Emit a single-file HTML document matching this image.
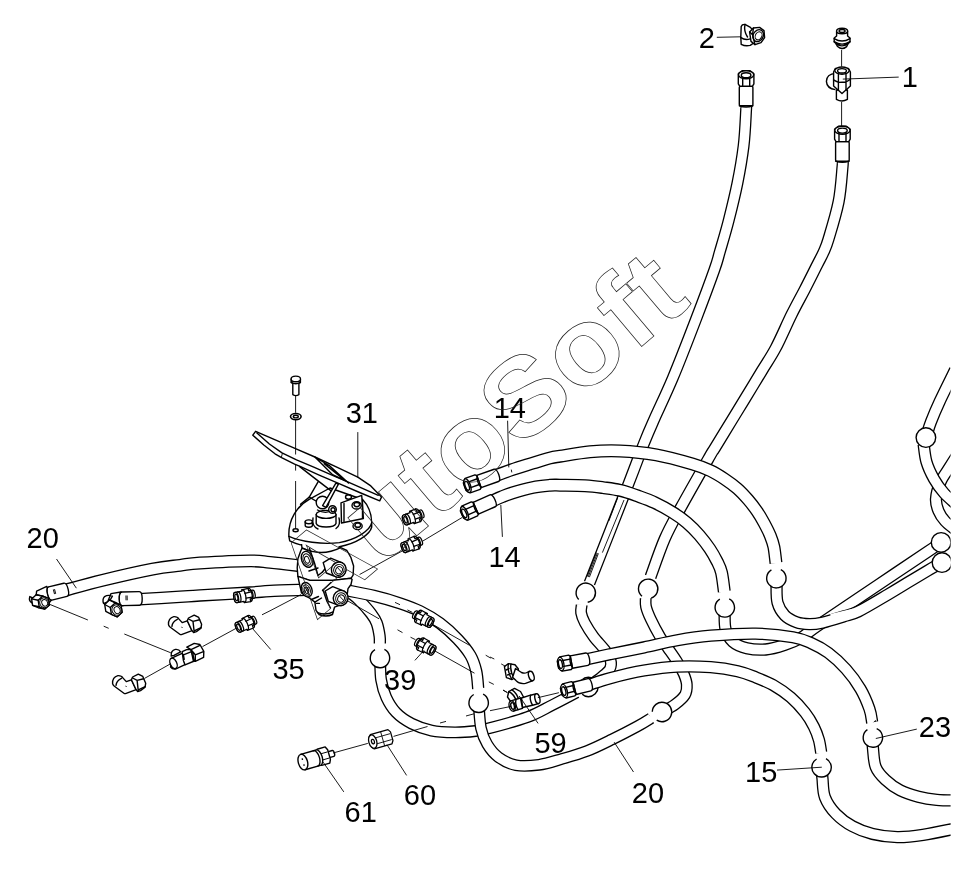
<!DOCTYPE html>
<html lang="en"><head><meta charset="utf-8"><title>Hose diagram</title>
<style>
html,body{margin:0;padding:0;background:#fff}
body{width:966px;height:872px;overflow:hidden}
svg{display:block;will-change:transform}
svg text{font-family:"Liberation Sans",sans-serif;fill:#000}
.ho{fill:none;stroke:#000;stroke-linejoin:round}
.hi{fill:none;stroke:#fff;stroke-linejoin:round}
.b{fill:#fff;stroke:#000;stroke-width:1.4}
.bo{fill:none;stroke:#000;stroke-width:1.4}
.w{fill:#fff;stroke:#000;stroke-width:1.4;stroke-linejoin:round}
.k{fill:none;stroke:#000;stroke-width:1.4;stroke-linecap:round;stroke-linejoin:round}
.r{fill:#fff;stroke:#000;stroke-width:.95}
.er{fill:none;stroke:#fff;stroke-width:2.4}
.t{fill:none;stroke:#000;stroke-width:.9}
.d{fill:none;stroke:#000;stroke-width:.8;stroke-dasharray:14 14}
.wm{font-family:"Liberation Sans",sans-serif;font-weight:bold;fill:none!important;stroke:#222;stroke-width:.75}
</style></head><body>
<svg width="966" height="872" viewBox="0 0 966 872">
<rect width="966" height="872" fill="#fff"/>
<g>
<path d="M746.3,105C746.3,105.8 746.5,103.2 746.1,110C745.7,116.8 745.1,133.7 743.6,145.9C742.1,158.1 739.9,170.8 737.4,183.2C734.9,195.6 731.6,208.9 728.7,220.4C725.8,231.9 722.2,243.6 719.8,251.9C717.4,260.2 718.3,258.7 714.3,270C710.3,281.3 702.7,301.7 695.8,319.7C688.9,337.7 679.9,361.1 672.8,378C665.7,394.9 658.1,410.4 653.3,421.4C648.4,432.4 647.9,433.5 643.7,444.1C639.5,454.7 637.1,461.7 628.1,484.9C619.1,508.1 595.9,566.7 589.5,583.1" class="ho" style="stroke-width:12"/>
<path d="M746.3,104.2C746.3,104.3 746.3,104 746.3,105C746.3,106 746.5,103.2 746.1,110C745.7,116.8 745.1,133.7 743.6,145.9C742.1,158.1 739.9,170.8 737.4,183.2C734.9,195.6 731.6,208.9 728.7,220.4C725.8,231.9 722.2,243.6 719.8,251.9C717.4,260.2 718.3,258.7 714.3,270C710.3,281.3 702.7,301.7 695.8,319.7C688.9,337.7 679.9,361.1 672.8,378C665.7,394.9 658.1,410.4 653.3,421.4C648.4,432.4 647.9,433.5 643.7,444.1C639.5,454.7 637.1,461.7 628.1,484.9C619.1,508.1 596,566.6 589.5,583.1C583,599.6 589.3,583.7 589.2,583.8" class="hi" style="stroke-width:9.4"/>
<path d="M842.6,160C842.6,161 843.3,159 842.6,166C841.9,173 841,189.6 838.6,201.8C836.2,214 831,230.8 828.5,239.1C826,247.4 825.6,247.6 823.7,251.9C821.8,256.2 820.4,258.5 817.2,264.8C814,271.1 808.9,281.4 804.6,289.7C800.3,298 796.4,304.8 791.6,314.5C786.8,324.2 780.7,338.6 775.7,348C770.7,357.4 767,362.3 761.8,371C756.5,379.7 749.3,391.6 744.2,400C739.1,408.4 736,413.4 731.1,421.4C726.2,429.4 718.5,442.1 714.9,448C711.3,453.9 715.2,446.8 709.5,456.8C703.8,466.8 688.1,494.3 680.6,508C673.1,521.7 669.7,527.3 664.7,538.8C659.7,550.3 653,570.5 650.6,576.8" class="ho" style="stroke-width:12.2"/>
<path d="M842.6,159.2C842.6,159.3 842.6,158.9 842.6,160C842.6,161.1 843.3,159 842.6,166C841.9,173 841,189.6 838.6,201.8C836.2,214 831,230.8 828.5,239.1C826,247.4 825.6,247.6 823.7,251.9C821.8,256.2 820.4,258.5 817.2,264.8C814,271.1 808.9,281.4 804.6,289.7C800.3,298 796.4,304.8 791.6,314.5C786.8,324.2 780.7,338.6 775.7,348C770.7,357.4 767,362.3 761.8,371C756.5,379.7 749.3,391.6 744.2,400C739.1,408.4 736,413.4 731.1,421.4C726.2,429.4 718.5,442.1 714.9,448C711.3,453.9 715.2,446.8 709.5,456.8C703.8,466.8 688.1,494.3 680.6,508C673.1,521.7 669.7,527.3 664.7,538.8C659.7,550.3 653,570.3 650.6,576.8C648.2,583.3 650.4,577.4 650.3,577.6" class="hi" style="stroke-width:9.6"/>
<path d="M581.7,605C581.6,606.3 580.6,609.8 581.1,612.8C581.6,615.8 582.7,618.8 584.8,622.7C586.9,626.6 590.2,631.9 593.5,636.4C596.8,640.9 601.8,645.8 604.6,649.6C607.4,653.4 609.5,656.2 610.4,659.4C611.3,662.6 611.4,665.9 609.9,668.8C608.4,671.7 605.1,674 601.5,677C597.9,680 590.6,684.9 588.4,686.5" class="ho" style="stroke-width:11.9"/>
<path d="M581.8,604.2C581.8,604.3 581.8,603.6 581.7,605C581.6,606.4 580.6,609.8 581.1,612.8C581.6,615.8 582.7,618.8 584.8,622.7C586.9,626.6 590.2,631.9 593.5,636.4C596.8,640.9 601.8,645.8 604.6,649.6C607.4,653.4 609.5,656.2 610.4,659.4C611.3,662.6 611.4,665.9 609.9,668.8C608.4,671.7 605.1,674 601.5,677C597.9,680 590.7,684.8 588.4,686.5C586.1,688.2 587.9,686.9 587.8,687" class="hi" style="stroke-width:9.3"/>
<circle cx="588.4" cy="687" r="9.7" class="b"/>
<path d="M380.1,660C380.3,663.3 380.1,673.5 381.1,679.8C382.1,686 383.8,692.1 386.3,697.5C388.8,702.9 391.8,708 396,712.4C400.2,716.8 405.8,720.6 411.7,723.6C417.6,726.6 424.5,729.1 431.6,730.6C438.7,732.1 447.1,732.3 454.4,732.4C461.7,732.5 469.6,731.7 475.5,731C481.4,730.3 481.4,730.4 490,728.1C498.6,725.8 516.9,721 527.3,717.2C537.6,713.4 543.9,709.3 552.1,705.2C560.3,701.1 572.4,694.6 576.5,692.5" class="ho" style="stroke-width:11.9"/>
<path d="M380.1,659.2C380.1,659.3 379.9,656.6 380.1,660C380.3,663.4 380.1,673.5 381.1,679.8C382.1,686 383.8,692.1 386.3,697.5C388.8,702.9 391.8,708 396,712.4C400.2,716.8 405.8,720.6 411.7,723.6C417.6,726.6 424.5,729.1 431.6,730.6C438.7,732.1 447.1,732.3 454.4,732.4C461.7,732.5 469.6,731.7 475.5,731C481.4,730.3 481.4,730.4 490,728.1C498.6,725.8 516.9,721 527.3,717.2C537.6,713.4 543.9,709.3 552.1,705.2C560.3,701.1 572.3,694.7 576.5,692.5C580.7,690.3 577.1,692.2 577.2,692.1" class="hi" style="stroke-width:9.3"/>
<path d="M645.7,597.9C645.8,599.4 645.2,603.1 646,606.6C646.8,610.1 648.3,613.9 650.7,619C653.1,624.1 657.5,632.4 660.4,637.3C663.3,642.2 665.5,644.6 668.2,648.6C671,652.6 674.3,657.1 676.9,661.3C679.5,665.5 682.1,670.1 683.8,674C685.4,677.9 686.6,681.1 686.8,684.6C687,688.1 687,691.5 685,694.8C683,698.1 678.8,701.6 675,704.5C671.2,707.4 664.2,710.8 662,712" class="ho" style="stroke-width:11.9"/>
<path d="M645.7,597.1C645.7,597.2 645.6,596.3 645.7,597.9C645.8,599.5 645.2,603.1 646,606.6C646.8,610.1 648.3,613.9 650.7,619C653.1,624.1 657.5,632.4 660.4,637.3C663.3,642.2 665.5,644.6 668.2,648.6C671,652.6 674.3,657.1 676.9,661.3C679.5,665.5 682.1,670.1 683.8,674C685.4,677.9 686.6,681.1 686.8,684.6C687,688.1 687,691.5 685,694.8C683,698.1 678.8,701.6 675,704.5C671.2,707.4 664.3,710.7 662,712C659.7,713.3 661.4,712.3 661.3,712.4" class="hi" style="stroke-width:9.3"/>
<path d="M724.6,612C724.8,614.9 724.2,624.3 725.6,629.3C727,634.3 729.4,638.8 732.9,641.9C736.4,645 741.3,646.9 746.8,648.2C752.3,649.5 759.4,650 765.7,649.5C772,649 778.9,646.8 784.6,644.9C790.3,643 795.3,641 800,638.4C804.7,635.8 808.2,632.4 813,629C817.8,625.6 818.2,625.4 829,618.1C839.8,610.8 861.6,596 878,585C894.4,574 916.9,559 927.4,551.9C937.9,544.8 938.8,544.1 941.1,542.6" class="ho" style="stroke-width:12.3"/>
<path d="M724.6,611.2C724.6,611.3 724.4,609 724.6,612C724.8,615 724.2,624.3 725.6,629.3C727,634.3 729.4,638.8 732.9,641.9C736.4,645 741.3,646.9 746.8,648.2C752.3,649.5 759.4,650 765.7,649.5C772,649 778.9,646.8 784.6,644.9C790.3,643 795.3,641 800,638.4C804.7,635.8 808.2,632.4 813,629C817.8,625.6 818.2,625.4 829,618.1C839.8,610.8 861.6,596 878,585C894.4,574 916.9,559 927.4,551.9C937.9,544.8 938.7,544.2 941.1,542.6C943.5,541 941.7,542.2 941.8,542.2" class="hi" style="stroke-width:9.7"/>
<path d="M776.5,584C776.7,587.1 776.1,597.4 777.5,602.6C778.9,607.8 781.6,612.1 784.8,615.4C788,618.7 792.5,620.8 796.6,622.3C800.7,623.8 805,624.1 809.3,624.2C813.5,624.3 816.4,624 822.1,622.7C827.9,621.4 837.7,618.3 843.8,616.4C849.9,614.5 851.1,615 858.5,611.4C865.9,607.8 879.8,599.3 888,594.5C896.2,589.7 901.1,586.6 907.7,582.6C914.3,578.6 921.7,574.2 927.4,570.8C933.1,567.4 939.6,563.7 942.1,562.3" class="ho" style="stroke-width:12.3"/>
<path d="M776.5,583.2C776.5,583.3 776.3,580.8 776.5,584C776.7,587.2 776.1,597.4 777.5,602.6C778.9,607.8 781.6,612.1 784.8,615.4C788,618.7 792.5,620.8 796.6,622.3C800.7,623.8 805,624.1 809.3,624.2C813.5,624.3 816.4,624 822.1,622.7C827.9,621.4 837.7,618.3 843.8,616.4C849.9,614.5 851.1,615 858.5,611.4C865.9,607.8 879.8,599.3 888,594.5C896.2,589.7 901.1,586.6 907.7,582.6C914.3,578.6 921.7,574.2 927.4,570.8C933.1,567.4 939.5,563.8 942.1,562.3C944.7,560.8 942.7,562 942.8,561.9" class="hi" style="stroke-width:9.7"/>
<path d="M830.5,615.2 L853.6,609.7" class="er"/>
<path d="M958,454C956.5,456.3 951.9,463.3 949,468C946.1,472.7 942.7,476.8 940.5,482C938.3,487.2 936.3,494.2 936,499C935.7,503.8 937,507.3 938.5,511C940,514.7 942.2,517.9 945,521C947.8,524.1 953.3,528.1 955,529.5" class="ho" style="stroke-width:12.3"/>
<path d="M958.4,453.3C958.4,453.4 959.6,451.6 958,454C956.4,456.4 951.9,463.3 949,468C946.1,472.7 942.7,476.8 940.5,482C938.3,487.2 936.3,494.2 936,499C935.7,503.8 937,507.3 938.5,511C940,514.7 942.2,517.9 945,521C947.8,524.1 953.2,528 955,529.5C956.8,531 955.5,529.9 955.6,530" class="hi" style="stroke-width:9.7"/>
<path d="M955,370C952.4,375.3 943.6,393 939.6,401.6C935.6,410.2 933.1,416.3 931,421.7C928.9,427.1 927.7,431.9 927,434" class="ho" style="stroke-width:12.3"/>
<path d="M955.4,369.3C955.3,369.4 957.6,364.6 955,370C952.4,375.4 943.6,393 939.6,401.6C935.6,410.2 933.1,416.3 931,421.7C928.9,427.1 927.7,431.8 927,434C926.3,436.2 926.8,434.6 926.8,434.8" class="hi" style="stroke-width:9.7"/>
<path d="M923.6,444C924.1,447 924.8,456.2 926.5,462C928.2,467.8 931.1,473.8 934,479C936.9,484.2 940,488.5 944,493C948,497.5 955.7,503.8 958,506" class="ho" style="stroke-width:12.3"/>
<path d="M923.5,443.2C923.5,443.3 923.1,440.9 923.6,444C924.1,447.1 924.8,456.2 926.5,462C928.2,467.8 931.1,473.8 934,479C936.9,484.2 940,488.5 944,493C948,497.5 955.6,503.7 958,506C960.4,508.3 958.5,506.5 958.6,506.5" class="hi" style="stroke-width:9.7"/>
<circle cx="925.9" cy="437.6" r="9.8" class="b"/>
<circle cx="941.1" cy="542.4" r="9.8" class="b"/>
<circle cx="942" cy="562.6" r="9.8" class="b"/>
<path d="M586.9,659.2C590.8,658.4 600.5,656.2 610,654.2C619.5,652.2 632.8,649.7 644,647.4C655.2,645.1 666.2,642.2 677.3,640.3C688.4,638.3 697.6,636.8 710.7,635.7C723.8,634.6 742,633.4 755.7,633.6C769.4,633.9 783.8,635.6 793,637.2C802.2,638.8 805,640.4 810.9,643C816.8,645.6 822.5,648.5 828.4,652.9C834.3,657.3 840.8,663.3 846.1,669.3C851.5,675.3 856.6,682.4 860.5,689C864.4,695.6 867.4,703.2 869.4,708.8C871.4,714.4 871.7,720.2 872.2,722.5" class="ho" style="stroke-width:12.3"/>
<path d="M586.1,659.4C586.2,659.3 582.9,660.1 586.9,659.2C590.9,658.3 600.5,656.2 610,654.2C619.5,652.2 632.8,649.7 644,647.4C655.2,645.1 666.2,642.2 677.3,640.3C688.4,638.3 697.6,636.8 710.7,635.7C723.8,634.6 742,633.4 755.7,633.6C769.4,633.9 783.8,635.6 793,637.2C802.2,638.8 805,640.4 810.9,643C816.8,645.6 822.5,648.5 828.4,652.9C834.3,657.3 840.8,663.3 846.1,669.3C851.5,675.3 856.6,682.4 860.5,689C864.4,695.6 867.4,703.2 869.4,708.8C871.4,714.4 871.7,720.1 872.2,722.5C872.7,724.9 872.3,723.2 872.4,723.3" class="hi" style="stroke-width:9.7"/>
<path d="M589.4,684.7C592.8,683.6 600.9,680.6 610,678.2C619.1,675.8 632.8,672.4 644,670.5C655.2,668.6 666.2,667.1 677.3,666.6C688.4,666.1 700.6,666.4 710.7,667.2C720.8,668 730.2,669.6 737.7,671.3C745.2,673 749.7,675 755.6,677.3C761.5,679.6 767.2,681.8 773.1,685.1C779,688.5 785.5,692.8 790.8,697.4C796.1,702 801.1,707.6 805,712.5C808.9,717.4 811.6,722.2 813.9,726.8C816.2,731.4 817.7,735.6 818.9,739.9C820.1,744.2 820.8,750.5 821.2,752.6" class="ho" style="stroke-width:12.3"/>
<path d="M588.6,684.9C588.8,684.9 585.8,685.8 589.4,684.7C593,683.6 600.9,680.6 610,678.2C619.1,675.8 632.8,672.4 644,670.5C655.2,668.6 666.2,667.1 677.3,666.6C688.4,666.1 700.6,666.4 710.7,667.2C720.8,668 730.2,669.6 737.7,671.3C745.2,673 749.7,675 755.6,677.3C761.5,679.6 767.2,681.8 773.1,685.1C779,688.5 785.5,692.8 790.8,697.4C796.1,702 801.1,707.6 805,712.5C808.9,717.4 811.6,722.2 813.9,726.8C816.2,731.4 817.7,735.6 818.9,739.9C820.1,744.2 820.8,750.4 821.2,752.6C821.6,754.8 821.3,753.3 821.3,753.4" class="hi" style="stroke-width:9.7"/>
<path d="M872.8,741C872.8,742.1 872.4,743.4 872.9,747.7C873.4,752 873.6,761.6 875.7,767C877.8,772.4 881.3,775.9 885.4,779.8C889.5,783.7 894.6,787.5 900.1,790.3C905.6,793.1 912.3,795.1 918.4,796.7C924.5,798.3 930.5,799.2 936.8,799.8C943.1,800.4 952.8,800.4 956,800.5" class="ho" style="stroke-width:12.3"/>
<path d="M872.8,740.2C872.8,740.3 872.8,739.8 872.8,741C872.8,742.2 872.4,743.4 872.9,747.7C873.4,752 873.6,761.6 875.7,767C877.8,772.4 881.3,775.9 885.4,779.8C889.5,783.7 894.6,787.5 900.1,790.3C905.6,793.1 912.3,795.1 918.4,796.7C924.5,798.3 930.5,799.2 936.8,799.8C943.1,800.4 952.7,800.4 956,800.5C959.3,800.6 956.7,800.5 956.8,800.5" class="hi" style="stroke-width:9.7"/>
<path d="M821.7,770C821.8,771.5 822,774.4 822.5,778.9C823,783.4 822.7,791.4 824.9,797.2C827.1,803 831.3,809 835.9,813.8C840.5,818.6 846.3,822.9 852.4,826.2C858.5,829.6 865.1,832.1 872.6,833.9C880.1,835.7 888.9,837 897.3,837.2C905.7,837.4 913.2,836.4 923,834.9C932.8,833.4 950.5,829.5 956,828.4" class="ho" style="stroke-width:12.3"/>
<path d="M821.6,769.2C821.6,769.3 821.6,768.4 821.7,770C821.8,771.6 822,774.4 822.5,778.9C823,783.4 822.7,791.4 824.9,797.2C827.1,803 831.3,809 835.9,813.8C840.5,818.6 846.3,822.9 852.4,826.2C858.5,829.6 865.1,832.1 872.6,833.9C880.1,835.7 888.9,837 897.3,837.2C905.7,837.4 913.2,836.4 923,834.9C932.8,833.4 950.4,829.5 956,828.4C961.6,827.3 956.7,828.3 956.8,828.2" class="hi" style="stroke-width:9.7"/>
<circle cx="872.8" cy="737.6" r="9.7" fill="#fff"/>
<path d="M876.7,728.7 A9.7,9.7 0 1 1 867.4,729.6" class="bo"/>
<circle cx="821.6" cy="767.3" r="9.7" fill="#fff"/>
<path d="M826,758.7 A9.7,9.7 0 1 1 816.6,759" class="bo"/>
<path d="M478.8,706C479.2,709.7 479.6,721.8 481,728.2C482.4,734.6 484.3,739.4 487.2,744.2C490.1,749 493.7,753.7 498.5,757.2C503.3,760.7 509.2,763.9 516,765.2C522.8,766.5 531.3,765.8 539,764.8C546.7,763.8 554,761.2 562,758.9C570,756.6 578.6,754.2 587,751C595.4,747.8 603.8,743.5 612.1,739.4C620.5,735.3 630.6,730 637.1,726.5C643.6,723 648.7,719.6 651,718.2" class="ho" style="stroke-width:11.8"/>
<path d="M478.7,705.2C478.7,705.3 478.4,702.2 478.8,706C479.2,709.8 479.6,721.8 481,728.2C482.4,734.6 484.3,739.4 487.2,744.2C490.1,749 493.7,753.7 498.5,757.2C503.3,760.7 509.2,763.9 516,765.2C522.8,766.5 531.3,765.8 539,764.8C546.7,763.8 554,761.2 562,758.9C570,756.6 578.6,754.2 587,751C595.4,747.8 603.8,743.5 612.1,739.4C620.5,735.3 630.6,730 637.1,726.5C643.6,723 648.6,719.7 651,718.2C653.4,716.7 651.6,717.9 651.7,717.8" class="hi" style="stroke-width:9.2"/>
<circle cx="662" cy="712" r="9.7" fill="#fff"/>
<path d="M652.3,711.8 A9.7,9.7 0 1 1 656.7,720.1" class="bo"/>
<path d="M496.3,475.4C498.9,474.4 506,471.8 512.1,469.7C518.2,467.6 526.5,465.1 532.8,463.1C539.1,461.2 545.5,459.1 550,458C554.5,456.9 553.3,457.2 560,456.2C566.7,455.2 580,452.7 590,451.8C600,450.9 609,450.5 620,451C631,451.5 644.2,452.7 656.3,454.9C668.4,457.1 683.5,461.4 692.5,464C701.5,466.6 705,468.2 710.4,470.7C715.8,473.2 720.2,476.1 724.7,479.1C729.2,482.1 733.5,485.2 737.4,488.6C741.3,492 744.7,495.8 748,499.6C751.3,503.4 754.4,507.4 757.1,511.4C759.8,515.3 762,519.2 764.2,523.3C766.4,527.4 768.8,532 770.4,536C772,540 773,542.6 773.9,547.1C774.8,551.6 775.6,560.4 776,563" class="ho" style="stroke-width:13"/>
<path d="M495.5,475.7C495.7,475.6 493.5,476.4 496.3,475.4C499.1,474.4 506,471.8 512.1,469.7C518.2,467.6 526.5,465.1 532.8,463.1C539.1,461.2 545.5,459.1 550,458C554.5,456.9 553.3,457.2 560,456.2C566.7,455.2 580,452.7 590,451.8C600,450.9 609,450.5 620,451C631,451.5 644.2,452.7 656.3,454.9C668.4,457.1 683.5,461.4 692.5,464C701.5,466.6 705,468.2 710.4,470.7C715.8,473.2 720.2,476.1 724.7,479.1C729.2,482.1 733.5,485.2 737.4,488.6C741.3,492 744.7,495.8 748,499.6C751.3,503.4 754.4,507.4 757.1,511.4C759.8,515.3 762,519.2 764.2,523.3C766.4,527.4 768.8,532 770.4,536C772,540 773,542.6 773.9,547.1C774.8,551.6 775.6,560.2 776,563C776.4,565.8 776.1,563.7 776.1,563.8" class="hi" style="stroke-width:10.4"/>
<path d="M492.4,500.9C494,500.2 498.5,498.1 501.8,496.8C505.1,495.5 506.9,494.6 512.1,493C517.3,491.4 526.5,488.8 532.8,487.5C539.1,486.2 545.5,485.7 550,485.3C554.5,484.9 554.1,485.1 560,485.2C565.9,485.3 578,485.3 585.2,485.7C592.4,486.1 597.2,486.8 603,487.6C608.8,488.4 614.3,489 620,490.3C625.7,491.6 631.2,493.6 637,495.7C642.8,497.8 648.8,499.8 654.7,502.6C660.6,505.4 667,508.9 672.4,512.3C677.8,515.6 682.4,518.9 686.9,522.7C691.4,526.5 695.6,530.9 699.4,535.2C703.2,539.6 706.8,544.4 709.8,548.8C712.8,553.2 715.1,557.5 717.1,561.5C719.1,565.5 720.3,567.5 721.5,572.5C722.7,577.5 723.8,588.3 724.3,591.5" class="ho" style="stroke-width:13"/>
<path d="M491.7,501.2C491.8,501.2 490.7,501.6 492.4,500.9C494.1,500.2 498.5,498.1 501.8,496.8C505.1,495.5 506.9,494.6 512.1,493C517.3,491.4 526.5,488.8 532.8,487.5C539.1,486.2 545.5,485.7 550,485.3C554.5,484.9 554.1,485.1 560,485.2C565.9,485.3 578,485.3 585.2,485.7C592.4,486.1 597.2,486.8 603,487.6C608.8,488.4 614.3,489 620,490.3C625.7,491.6 631.2,493.6 637,495.7C642.8,497.8 648.8,499.8 654.7,502.6C660.6,505.4 667,508.9 672.4,512.3C677.8,515.6 682.4,518.9 686.9,522.7C691.4,526.5 695.6,530.9 699.4,535.2C703.2,539.6 706.8,544.4 709.8,548.8C712.8,553.2 715.1,557.5 717.1,561.5C719.1,565.5 720.3,567.5 721.5,572.5C722.7,577.5 723.8,588.2 724.3,591.5C724.8,594.8 724.4,592.2 724.4,592.3" class="hi" style="stroke-width:10.4"/>
<circle cx="776.4" cy="578.2" r="9.7" fill="#fff"/>
<path d="M780.8,569.6 A9.7,9.7 0 1 1 771.4,569.9" class="bo"/>
<circle cx="724.8" cy="607.4" r="9.7" fill="#fff"/>
<path d="M729.2,598.8 A9.7,9.7 0 1 1 719.8,599.1" class="bo"/>
<circle cx="585.8" cy="592.8" r="9.7" fill="#fff"/>
<path d="M578.7,599.4 A9.7,9.7 0 1 1 587.7,602.3" class="bo"/>
<circle cx="648.1" cy="588.8" r="9.7" fill="#fff"/>
<path d="M642,596.3 A9.7,9.7 0 1 1 651.3,598" class="bo"/>
<path d="M65.5,590.2C71.7,588.5 88.3,583.7 102.8,580.2C117.3,576.7 139.6,571.6 152.5,569.1C165.4,566.6 172.1,566.3 180,565.3C187.9,564.3 188.3,563.7 200,563C211.7,562.3 238.3,561 250,560.9C261.7,560.8 261.7,561.6 270,562.4C278.3,563.2 295,565.2 300,565.8" class="ho" style="stroke-width:12.9"/>
<path d="M64.7,590.4C64.9,590.4 59.2,591.9 65.5,590.2C71.8,588.5 88.3,583.7 102.8,580.2C117.3,576.7 139.6,571.6 152.5,569.1C165.4,566.6 172.1,566.3 180,565.3C187.9,564.3 188.3,563.7 200,563C211.7,562.3 238.3,561 250,560.9C261.7,560.8 261.7,561.6 270,562.4C278.3,563.2 294.9,565.2 300,565.8C305.1,566.4 300.7,565.9 300.8,565.9" class="hi" style="stroke-width:10.3"/>
<path d="M138.9,599.3C145.8,598.9 169.8,597.4 180,596.8C190.2,596.1 188.3,596.1 200,595.4C211.7,594.7 238.3,593.3 250,592.6C261.7,591.9 260.8,591.5 270,591C279.2,590.5 299.2,590 305,589.8" class="ho" style="stroke-width:12.5"/>
<path d="M138.1,599.3C138.2,599.3 131.9,599.7 138.9,599.3C145.9,598.9 169.8,597.4 180,596.8C190.2,596.1 188.3,596.1 200,595.4C211.7,594.7 238.3,593.3 250,592.6C261.7,591.9 260.8,591.5 270,591C279.2,590.5 299,590 305,589.8C311,589.6 305.7,589.8 305.8,589.8" class="hi" style="stroke-width:9.9"/>
<path d="M352,594C353.2,595 355.8,596.8 359,600C362.2,603.2 368.1,609.6 371,613.4C373.9,617.2 375.3,619.2 376.7,623C378.1,626.8 379.1,632.6 379.6,636C380.1,639.4 379.8,642.3 379.8,643.6" class="ho" style="stroke-width:12.3"/>
<path d="M351.4,593.5C351.5,593.6 350.7,592.9 352,594C353.3,595.1 355.8,596.8 359,600C362.2,603.2 368.1,609.6 371,613.4C373.9,617.2 375.3,619.2 376.7,623C378.1,626.8 379.1,632.6 379.6,636C380.1,639.4 379.8,642.2 379.8,643.6C379.8,645 379.8,644.3 379.8,644.4" class="hi" style="stroke-width:9.7"/>
<path d="M345,590C349.8,591 364.4,593.5 373.6,595.8C382.9,598 392.8,600.9 400.5,603.5C408.2,606.1 413.4,607.9 420,611.2C426.6,614.5 433.8,618.6 440,623.2C446.2,627.8 452.4,633.6 457.5,639C462.6,644.4 467.4,650.2 470.5,655.5C473.6,660.8 474.9,665.5 476.2,671C477.5,676.5 477.9,685.6 478.2,688.5" class="ho" style="stroke-width:12.3"/>
<path d="M344.2,589.8C344.3,589.9 340.1,589 345,590C349.9,591 364.4,593.5 373.6,595.8C382.9,598 392.8,600.9 400.5,603.5C408.2,606.1 413.4,607.9 420,611.2C426.6,614.5 433.8,618.6 440,623.2C446.2,627.8 452.4,633.6 457.5,639C462.6,644.4 467.4,650.2 470.5,655.5C473.6,660.8 474.9,665.5 476.2,671C477.5,676.5 477.9,685.5 478.2,688.5C478.5,691.5 478.3,689.2 478.3,689.3" class="hi" style="stroke-width:9.7"/>
<circle cx="478.7" cy="702.8" r="9.7" fill="#fff"/>
<path d="M483.1,694.2 A9.7,9.7 0 1 1 473.7,694.5" class="bo"/>
<circle cx="380" cy="658" r="9.7" fill="#fff"/>
<path d="M384.4,649.4 A9.7,9.7 0 1 1 375,649.7" class="bo"/>
<path d="M617.6,498 L608.8,521" class="t"/>
<path d="M624,500 L602.4,552.6" class="t"/>
<path d="M596.4,552.6 L587.2,576.6" class="t"/>
<path d="M597.4,553 L588.2,577" class="t"/>
<path d="M598.4,553.4 L589.4,577.2" class="t"/>
<path d="M511.3,469.6 L511.8,472.4" class="t"/>
<g transform="translate(496.3,475.4) rotate(160.4)">
<path d="M18.4,-6.5 L0,-6.5 A2.6,6.5 0 0 0 0,6.5 L18.4,6.5 Z" class="w"/>
<path d="M18.4,-6.3 L19.9,-7.7 L30.4,-7.7 L33.6,-3.9 L33.6,3.9 L30.4,7.7 L19.9,7.7 L18.4,6.3 Z" class="w"/>
<ellipse cx="30.6" cy="0" rx="3" ry="7.2" class="w"/>
<ellipse cx="31" cy="0" rx="1.9" ry="4.6" class="w"/>
<path d="M19,-2.9 L28.2,-2.9" class="k"/>
<path d="M19,3.2 L28.2,3.2" class="k"/>
<path d="M18.4,-6.3 Q20.8,0 18.4,6.3" class="k"/>
</g>
<g transform="translate(492.6,500.8) rotate(156)">
<path d="M18.4,-6.5 L0,-6.5 A2.6,6.5 0 0 0 0,6.5 L18.4,6.5 Z" class="w"/>
<path d="M18.4,-6.3 L19.9,-7.7 L30.4,-7.7 L33.6,-3.9 L33.6,3.9 L30.4,7.7 L19.9,7.7 L18.4,6.3 Z" class="w"/>
<ellipse cx="30.6" cy="0" rx="3" ry="7.2" class="w"/>
<ellipse cx="31" cy="0" rx="1.9" ry="4.6" class="w"/>
<path d="M19,-2.9 L28.2,-2.9" class="k"/>
<path d="M19,3.2 L28.2,3.2" class="k"/>
<path d="M18.4,-6.3 Q20.8,0 18.4,6.3" class="k"/>
</g>
<g transform="translate(586.9,659.2) rotate(169.5)">
<path d="M15.8,-6.3 L0,-6.3 A2.6,6.3 0 0 0 0,6.3 L15.8,6.3 Z" class="w"/>
<path d="M15.8,-6 L17.3,-7.3 L26.3,-7.3 L29.5,-3.6 L29.5,3.6 L26.3,7.3 L17.3,7.3 L15.8,6 Z" class="w"/>
<ellipse cx="26.5" cy="0" rx="3" ry="6.8" class="w"/>
<ellipse cx="26.9" cy="0" rx="1.9" ry="4.4" class="w"/>
<path d="M16.4,-2.8 L24.1,-2.8" class="k"/>
<path d="M16.4,3.1 L24.1,3.1" class="k"/>
<path d="M15.8,-6 Q18.2,0 15.8,6" class="k"/>
</g>
<g transform="translate(589.4,684.7) rotate(166)">
<path d="M15.3,-6.3 L0,-6.3 A2.6,6.3 0 0 0 0,6.3 L15.3,6.3 Z" class="w"/>
<path d="M15.3,-6 L16.8,-7.3 L25.8,-7.3 L29,-3.6 L29,3.6 L25.8,7.3 L16.8,7.3 L15.3,6 Z" class="w"/>
<ellipse cx="26" cy="0" rx="3" ry="6.8" class="w"/>
<ellipse cx="26.4" cy="0" rx="1.9" ry="4.4" class="w"/>
<path d="M15.9,-2.8 L23.6,-2.8" class="k"/>
<path d="M15.9,3.1 L23.6,3.1" class="k"/>
<path d="M15.3,-6 Q17.7,0 15.3,6" class="k"/>
</g>
<g transform="translate(746.1,105.8)">
<rect x="-6.8" y="-19.6" width="13.6" height="19.6" rx="1.2" class="w"/>
<path d="M-6.8,0 Q0,2.4 6.8,0" class="k"/>
<path d="M-6.4,-19.6 L-7.8,-22 L-7.8,-32 L-4,-35 L4,-35 L7.8,-32 L7.8,-22 L6.4,-19.6 Z" class="w"/>
<ellipse cx="0" cy="-31" rx="7.6" ry="4" class="w"/>
<ellipse cx="0" cy="-30.6" rx="4.8" ry="2.5" class="w"/>
<path d="M-3.4,-27.4 L-3.4,-20.2" class="k"/>
<path d="M3.6,-27.4 L3.6,-20.2" class="k"/>
</g>
<g transform="translate(842.4,161.2)">
<rect x="-6.8" y="-19.6" width="13.6" height="19.6" rx="1.2" class="w"/>
<path d="M-6.8,0 Q0,2.4 6.8,0" class="k"/>
<path d="M-6.4,-19.6 L-7.8,-22 L-7.8,-32 L-4,-35 L4,-35 L7.8,-32 L7.8,-22 L6.4,-19.6 Z" class="w"/>
<ellipse cx="0" cy="-31" rx="7.6" ry="4" class="w"/>
<ellipse cx="0" cy="-30.6" rx="4.8" ry="2.5" class="w"/>
<path d="M-3.4,-27.4 L-3.4,-20.2" class="k"/>
<path d="M3.6,-27.4 L3.6,-20.2" class="k"/>
</g>
<g transform="translate(244.8,595.8) rotate(-11) scale(0.9)">
<path d="M-9.8,-5.8 L-2,-5.8 L-2,-7.2 L5.2,-7.5 L5.2,-4.6 L9.8,-4.6 A1.8,4.6 0 0 1 9.8,4.6 L5.2,4.6 L5.2,7.5 L-2,7.2 L-2,5.8 L-9.8,5.8 A2.6,5.8 0 0 1 -9.8,-5.8 Z" class="w"/>
<ellipse cx="-9.8" cy="0" rx="2.6" ry="5.8" class="w"/>
<ellipse cx="-9.5" cy="0" rx="1.6" ry="3.7" class="w"/>
<path d="M-7.2,-5.8 A2.6,5.8 0 0 1 -7.2,5.8" class="k"/>
<path d="M-2,-7.2 A3,7.2 0 0 1 -2,7.2" class="k"/>
<path d="M5.2,-7.5 A3,7.5 0 0 1 5.2,7.5" class="k"/>
<path d="M7.4,-4.6 A1.8,4.6 0 0 1 7.4,4.6" class="k"/>
<path d="M0.6,-2.7 L7.6,-2.9" class="k"/>
<path d="M0.8,2.9 L7.8,3.1" class="k"/>
</g>
<g transform="translate(246.4,623.7) rotate(-24) scale(0.9)">
<path d="M-9.8,-5.8 L-2,-5.8 L-2,-7.2 L5.2,-7.5 L5.2,-4.6 L9.8,-4.6 A1.8,4.6 0 0 1 9.8,4.6 L5.2,4.6 L5.2,7.5 L-2,7.2 L-2,5.8 L-9.8,5.8 A2.6,5.8 0 0 1 -9.8,-5.8 Z" class="w"/>
<ellipse cx="-9.8" cy="0" rx="2.6" ry="5.8" class="w"/>
<ellipse cx="-9.5" cy="0" rx="1.6" ry="3.7" class="w"/>
<path d="M-7.2,-5.8 A2.6,5.8 0 0 1 -7.2,5.8" class="k"/>
<path d="M-2,-7.2 A3,7.2 0 0 1 -2,7.2" class="k"/>
<path d="M5.2,-7.5 A3,7.5 0 0 1 5.2,7.5" class="k"/>
<path d="M7.4,-4.6 A1.8,4.6 0 0 1 7.4,4.6" class="k"/>
<path d="M0.6,-2.7 L7.6,-2.9" class="k"/>
<path d="M0.8,2.9 L7.8,3.1" class="k"/>
</g>
<g transform="translate(422.8,618.6) rotate(207) scale(0.9)">
<path d="M-9.8,-5.8 L-2,-5.8 L-2,-7.2 L5.2,-7.5 L5.2,-4.6 L9.8,-4.6 A1.8,4.6 0 0 1 9.8,4.6 L5.2,4.6 L5.2,7.5 L-2,7.2 L-2,5.8 L-9.8,5.8 A2.6,5.8 0 0 1 -9.8,-5.8 Z" class="w"/>
<ellipse cx="-9.8" cy="0" rx="2.6" ry="5.8" class="w"/>
<ellipse cx="-9.5" cy="0" rx="1.6" ry="3.7" class="w"/>
<path d="M-7.2,-5.8 A2.6,5.8 0 0 1 -7.2,5.8" class="k"/>
<path d="M-2,-7.2 A3,7.2 0 0 1 -2,7.2" class="k"/>
<path d="M5.2,-7.5 A3,7.5 0 0 1 5.2,7.5" class="k"/>
<path d="M7.4,-4.6 A1.8,4.6 0 0 1 7.4,4.6" class="k"/>
<path d="M0.6,-2.7 L7.6,-2.9" class="k"/>
<path d="M0.8,2.9 L7.8,3.1" class="k"/>
</g>
<g transform="translate(424.8,646.2) rotate(208) scale(0.9)">
<path d="M-9.8,-5.8 L-2,-5.8 L-2,-7.2 L5.2,-7.5 L5.2,-4.6 L9.8,-4.6 A1.8,4.6 0 0 1 9.8,4.6 L5.2,4.6 L5.2,7.5 L-2,7.2 L-2,5.8 L-9.8,5.8 A2.6,5.8 0 0 1 -9.8,-5.8 Z" class="w"/>
<ellipse cx="-9.8" cy="0" rx="2.6" ry="5.8" class="w"/>
<ellipse cx="-9.5" cy="0" rx="1.6" ry="3.7" class="w"/>
<path d="M-7.2,-5.8 A2.6,5.8 0 0 1 -7.2,5.8" class="k"/>
<path d="M-2,-7.2 A3,7.2 0 0 1 -2,7.2" class="k"/>
<path d="M5.2,-7.5 A3,7.5 0 0 1 5.2,7.5" class="k"/>
<path d="M7.4,-4.6 A1.8,4.6 0 0 1 7.4,4.6" class="k"/>
<path d="M0.6,-2.7 L7.6,-2.9" class="k"/>
<path d="M0.8,2.9 L7.8,3.1" class="k"/>
</g>
<g transform="translate(413.6,516.9) rotate(-20) scale(0.9)">
<path d="M-9.8,-5.8 L-2,-5.8 L-2,-7.2 L5.2,-7.5 L5.2,-4.6 L9.8,-4.6 A1.8,4.6 0 0 1 9.8,4.6 L5.2,4.6 L5.2,7.5 L-2,7.2 L-2,5.8 L-9.8,5.8 A2.6,5.8 0 0 1 -9.8,-5.8 Z" class="w"/>
<ellipse cx="-9.8" cy="0" rx="2.6" ry="5.8" class="w"/>
<ellipse cx="-9.5" cy="0" rx="1.6" ry="3.7" class="w"/>
<path d="M-7.2,-5.8 A2.6,5.8 0 0 1 -7.2,5.8" class="k"/>
<path d="M-2,-7.2 A3,7.2 0 0 1 -2,7.2" class="k"/>
<path d="M5.2,-7.5 A3,7.5 0 0 1 5.2,7.5" class="k"/>
<path d="M7.4,-4.6 A1.8,4.6 0 0 1 7.4,4.6" class="k"/>
<path d="M0.6,-2.7 L7.6,-2.9" class="k"/>
<path d="M0.8,2.9 L7.8,3.1" class="k"/>
</g>
<g transform="translate(412.2,544.3) rotate(-22) scale(0.9)">
<path d="M-9.8,-5.8 L-2,-5.8 L-2,-7.2 L5.2,-7.5 L5.2,-4.6 L9.8,-4.6 A1.8,4.6 0 0 1 9.8,4.6 L5.2,4.6 L5.2,7.5 L-2,7.2 L-2,5.8 L-9.8,5.8 A2.6,5.8 0 0 1 -9.8,-5.8 Z" class="w"/>
<ellipse cx="-9.8" cy="0" rx="2.6" ry="5.8" class="w"/>
<ellipse cx="-9.5" cy="0" rx="1.6" ry="3.7" class="w"/>
<path d="M-7.2,-5.8 A2.6,5.8 0 0 1 -7.2,5.8" class="k"/>
<path d="M-2,-7.2 A3,7.2 0 0 1 -2,7.2" class="k"/>
<path d="M5.2,-7.5 A3,7.5 0 0 1 5.2,7.5" class="k"/>
<path d="M7.4,-4.6 A1.8,4.6 0 0 1 7.4,4.6" class="k"/>
<path d="M0.6,-2.7 L7.6,-2.9" class="k"/>
<path d="M0.8,2.9 L7.8,3.1" class="k"/>
</g>
<path d="M288.9,536.4 C288,520 297,506 309.6,499.2 L330,488 L362.6,499.5 C368,505 371.5,513 371.7,522.7 L371.7,527 C370,535 356,543.5 339.4,546.8 C322,549.5 301,546.5 289.7,540.9 Z" class="w"/>
<path d="M288.9,536.4 C301,541.5 322,545 339.4,542.6 C356,539.5 370,531 371.7,522.7" class="k"/>
<path d="M301.5,544 L302,548 Q320,556.5 339,552.5 L339.2,546" class="w"/>
<path d="M300.5,551.5 L297.9,558.7 L297.2,568 L297.9,576.3 L309.8,580.4 L332.5,580.4 L351,578.3 L353.1,575.2 L353.6,566 L351,557.7 L346.9,550.5 L340.7,547.6 Q322,557 302,548.2 Z" class="w"/>
<path d="M297.9,576.3 L299.4,583.5 L301.5,592.8 L310.8,599 L314.9,602.1 L316,610.3 L319.1,614.5 Q326,617.6 332.5,614.5 L334.5,607.2 L342.8,604.1 L346.9,596.9 L348,588.7 L351,584.5 L352.1,579.4 L351,578.3 L332.5,580.4 L309.8,580.4 Z" class="w"/>
<path d="M317.4,612.6 Q326,615.6 333.2,611.8" class="k"/>
<path d="M309.5,548.5 L314.5,563 L318,575.5 L322.5,572" class="k"/>
<path d="M322.5,572 L326,567.5 M309,571 L318,568" class="k"/>
<path d="M311.5,599.5 L318.5,596.5 M314.9,602.1 L321.5,598 M322.5,590.5 L331,582.5" class="k"/>
<path d="M323,590 L327,601.5 L330.5,608" class="k"/>
<path d="M316.6,603.4 L319.4,603.4" class="k"/>
<ellipse cx="307.2" cy="559.3" rx="5.6" ry="8.2" transform="rotate(-20 307.2 559.3)" class="w"/>
<ellipse cx="307" cy="559.5" rx="3.9" ry="5.9" transform="rotate(-20 307.2 559.3)" class="r"/>
<ellipse cx="306.8" cy="559.7" rx="2.2" ry="3.6" transform="rotate(-20 307.2 559.3)" class="r"/>
<ellipse cx="306.7" cy="589.7" rx="5.2" ry="7.4" transform="rotate(-20 306.7 589.7)" class="w"/>
<ellipse cx="306.5" cy="589.9" rx="3.6" ry="5.3" transform="rotate(-20 306.7 589.7)" class="r"/>
<ellipse cx="306.3" cy="590.1" rx="2.1" ry="3.3" transform="rotate(-20 306.7 589.7)" class="r"/>
<path d="M304.6,586.6 L308.4,593.2 M308.6,586.8 L304.6,592.6" class="t"/>
<path d="M323.2,562.6 L330.7,558.2 L342.2,562.8 A7.4,7.6 0 0 1 334.1,576 L326.3,573 Z" class="w"/>
<ellipse cx="338.7" cy="569.6" rx="7.3" ry="7.7" transform="rotate(25 338.7 569.6)" class="w"/>
<ellipse cx="339" cy="569.8" rx="5.2" ry="5.6" transform="rotate(25 338.7 569.6)" class="r"/>
<ellipse cx="339.3" cy="570" rx="3.3" ry="3.7" transform="rotate(25 338.7 569.6)" class="r"/>
<path d="M337.1,567.2 L341.7,572.2" class="t"/>
<path d="M325.2,591 L332.7,586.6 L344.2,591.2 A7.4,7.6 0 0 1 336.1,604.4 L328.3,601.4 Z" class="w"/>
<ellipse cx="340.7" cy="598" rx="7.3" ry="7.7" transform="rotate(25 340.7 598)" class="w"/>
<ellipse cx="341" cy="598.2" rx="5.2" ry="5.6" transform="rotate(25 340.7 598)" class="r"/>
<ellipse cx="341.3" cy="598.4" rx="3.3" ry="3.7" transform="rotate(25 340.7 598)" class="r"/>
<path d="M339.1,595.6 L343.7,600.6" class="t"/>
<path d="M316.2,514.4 L316.2,523.5 A10,4 0 0 0 336,523.5 L336,514.4 Z" class="w"/>
<ellipse cx="326.1" cy="514.4" rx="9.9" ry="4" class="w"/>
<path d="M313,518 Q311.5,526 318,529 M339,518 Q341,525 336,528.5" class="k"/>
<circle cx="322.5" cy="502.5" r="6.3" class="w"/>
<path d="M317.5,510 Q326,515 334,509.5" class="k"/>
<path d="M335.9,483.1 L338.4,484.2 L326,507.4 L322.6,505.6 Z" class="w"/>
<circle cx="332.5" cy="509.5" r="3.8" class="w"/>
<circle cx="333" cy="509.8" r="2" class="w"/>
<path d="M318.2,481.7 L309.3,497.1 L316,501" class="k"/>
<path d="M309.3,497.1 L300.5,504.2" class="k"/>
<path d="M341,502.8 L361.7,495.4 L363.4,518.5 L341.5,523 Z" class="w"/>
<path d="M344,503.5 L344,521.5 M362.5,500 L362.5,518" class="k"/>
<ellipse cx="356.6" cy="505.4" rx="4.6" ry="3.6" class="w"/>
<ellipse cx="356.8" cy="504.6" rx="2.8" ry="2.1" class="w"/>
<ellipse cx="357.6" cy="526" rx="4.6" ry="3.6" class="w"/>
<ellipse cx="357.8" cy="525.2" rx="2.8" ry="2.1" class="w"/>
<path d="M305.2,521.8 L305.2,525.5 A3.6,1.8 0 0 0 312.4,525.5 L312.4,521.8 Z" class="w"/>
<ellipse cx="308.8" cy="521.8" rx="3.6" ry="1.9" class="w"/>
<ellipse cx="295.6" cy="530.2" rx="2.6" ry="1.5" class="w"/>
<ellipse cx="348.5" cy="497" rx="3" ry="2.2" class="k"/>
<path d="M255.6,431.3 L295.5,448.7 L314.9,457 L337.3,467.3 L357.8,477.1 L370.8,485.9 L381.5,497.1 L379.7,500.9 L359.6,492.5 L339.1,483.6 L318.6,474.8 L300,466.4 L294.6,464.1 L281.6,457.6 L275,453.8 L263.8,445 L252.8,435.2 Z" class="w"/>
<path d="M256.9,432.9 L269.4,444 L282,452.9 L296.5,459.9 L313.2,466.9 L335.4,476.6 L346.6,481.3 L378.3,495.3" class="k"/>
<path d="M282.5,453 L281.4,457.1" class="t"/>
<path d="M314.9,457 L332.6,474.7 L346.6,481.3 M314.9,457 L329.8,465.9 L348.5,483.1 M324.2,463.6 L344.7,480.3" class="k"/>
<path d="M299.7,466.6 L313.2,477.1 L330.8,490.6" class="k"/>
<path d="M291.2,379 L291.2,382.6 L292.8,383.4 L292.8,394.6 Q295.8,396.6 298.9,394.6 L298.9,383.4 L300.4,382.6 L300.4,379 Z" class="w"/>
<ellipse cx="295.8" cy="378.9" rx="4.7" ry="2.8" class="w"/>
<path d="M291.2,382.2 Q295.8,385.4 300.4,382.2" class="k"/>
<ellipse cx="295.8" cy="416.6" rx="5.3" ry="3.1" class="w" style="stroke-width:1.6"/>
<ellipse cx="295.8" cy="416.6" rx="2.5" ry="1.3" class="w"/>
<g transform="translate(0,0)">
<path d="M168.5,624.6 Q168.1,618.2 173.8,616.6 Q177.4,616.4 179,619.1 L182.2,622.6 L187.3,620.8 L192,630.6 L181.4,634.6 Q180.6,634.8 179.8,634.2 L170,627 Q168.8,626 168.5,624.6 Z" class="w"/>
<path d="M171.9,626.4 Q172.3,621.6 177.3,619.3" class="k"/>
<path d="M181.6,626.8 L182.4,628" class="t"/>
<path d="M187.3,620.8 L188.5,618 L194.2,615.1 L198.7,617.4 L201.6,624.2 L201,628.2 L196.4,631.6 L193.6,632.5 L191.9,630.5 Z" class="w"/>
<path d="M193,621.4 L194.2,632.2 M188.6,619 L193,621.4 L199.6,619.8 M194.2,630.8 L201,627.6" class="k"/>
</g>
<g transform="translate(-55.9,59)">
<path d="M168.5,624.6 Q168.1,618.2 173.8,616.6 Q177.4,616.4 179,619.1 L182.2,622.6 L187.3,620.8 L192,630.6 L181.4,634.6 Q180.6,634.8 179.8,634.2 L170,627 Q168.8,626 168.5,624.6 Z" class="w"/>
<path d="M171.9,626.4 Q172.3,621.6 177.3,619.3" class="k"/>
<path d="M181.6,626.8 L182.4,628" class="t"/>
<path d="M187.3,620.8 L188.5,618 L194.2,615.1 L198.7,617.4 L201.6,624.2 L201,628.2 L196.4,631.6 L193.6,632.5 L191.9,630.5 Z" class="w"/>
<path d="M193,621.4 L194.2,632.2 M188.6,619 L193,621.4 L199.6,619.8 M194.2,630.8 L201,627.6" class="k"/>
</g>
<path d="M171.2,656 Q170.6,650.6 175.4,649.4 Q179,649 180.6,651.8 L174,655.4 Z" class="w"/>
<path d="M171.2,658.4 L182.6,653.2 L185,664.6 L176,668.8 Q172.6,669.6 170.6,667 Z" class="w"/>
<ellipse cx="173.5" cy="663.4" rx="3.2" ry="5.5" transform="rotate(-25 173.5 663.4)" class="w"/>
<path d="M182.2,651.6 L186.6,649.6 L191,649.6 L194.4,661 L185,664.8 L183.4,660.4 Z" class="w"/>
<path d="M183.4,654.8 L191.6,651.6 M184.2,659.4 L183.4,654.8" class="k"/>
<path d="M186.8,647.1 L194.2,643.4 L199.9,644.5 L203.8,651.4 L203.6,657.4 L195.3,661.4 L193.3,660.5 L191,649.7 Z" class="w"/>
<path d="M191,649.7 L195.3,654.8 L195.3,661.4 M195.3,654.8 L203.4,651.6 M191,649.7 L199.4,645.6 M192.6,651.6 L194,660.6" class="k"/>
<path d="M36.6,591.2 L46.8,586.4 L51.4,600 L47,605.5 L36,597 Z M29.8,596.6 Q28.6,600.6 31.6,602.8 L34,598.4 Z" class="w"/>
<g transform="translate(65.4,589.8) rotate(166.2)">
<path d="M15.6,-6.8 L0,-6.8 A2.8,6.8 0 0 0 0,6.8 L15.6,6.8 A2.8,6.8 0 0 0 15.6,-6.8 Z" class="w"/>
<path d="M15.6,-6.8 A2.8,6.8 0 0 1 15.6,6.8" class="t"/>
<path d="M11.6,-1.6 L11.6,3.2 M10.4,-1.6 L10.4,3.2" class="t"/>
</g>
<path d="M31.6,598.9 L36.2,594.7 L42.8,596.1 L48.4,598.4 L49.4,604.9 L44.8,609.1 L38.2,607.7 L32.6,605.4 Z" class="w"/>
<path d="M49.4,604.9 L44.8,609.1 L39.2,606.8 L38.2,600.3 L42.8,596.1 L48.4,598.4 Z" class="w"/>
<path d="M39.2,606.8 L32.6,605.4" class="k"/>
<path d="M38.2,600.3 L31.6,598.9" class="k"/>
<path d="M42.8,596.1 L36.2,594.7" class="k"/>
<ellipse cx="44.1" cy="602.9" rx="4.4" ry="5" transform="rotate(-25 43.8 602.6)" class="r"/>
<ellipse cx="44.5" cy="603.2" rx="2.8" ry="3.4" transform="rotate(-25 43.8 602.6)" class="r"/>
<path d="M111,593.6 L121,592 L123.4,605.6 L118,606.5 L108,601 Z M104.6,596.6 Q102,599.4 103.6,603.6 L109.6,601 L112.4,596.2 Q108,594.4 104.6,596.6 Z" class="w"/>
<g transform="translate(139.4,598.4) rotate(178.6)">
<path d="M17.4,-6.8 L0,-6.8 A2.8,6.8 0 0 0 0,6.8 L17.4,6.8 A2.8,6.8 0 0 0 17.4,-6.8 Z" class="w"/>
<path d="M17.4,-6.8 A2.8,6.8 0 0 1 17.4,6.8" class="t"/>
<path d="M13.4,-1.6 L13.4,3.2 M12.2,-1.6 L12.2,3.2" class="t"/>
</g>
<path d="M104.7,604.5 L109.5,600 L115.4,602.4 L121,605.4 L122.1,612.3 L117.3,616.8 L111.4,614.4 L105.8,611.4 Z" class="w"/>
<path d="M122.1,612.3 L117.3,616.8 L111.4,614.4 L110.3,607.5 L115.1,603 L121,605.4 Z" class="w"/>
<path d="M110.3,607.5 L104.7,604.5" class="k"/>
<path d="M115.1,603 L109.5,600" class="k"/>
<ellipse cx="116.5" cy="610.2" rx="4.6" ry="5.3" transform="rotate(-25 116.2 609.9)" class="r"/>
<ellipse cx="116.9" cy="610.5" rx="2.9" ry="3.6" transform="rotate(-25 116.2 609.9)" class="r"/>
<path d="M504.4,666.5 L508.5,663.6 L515,664.8 L518.4,669 L516.8,676.6 L512,679.5 L506.4,677.6 Z" class="w"/>
<path d="M508.5,663.6 Q506.8,671 512,679.5 M511,664 Q509.6,671 514.4,678.2 M506,670 L509,668.6 M507.6,675 L511.2,673.6" class="k"/>
<path d="M515.5,668.5 L521.5,672.5 Q524.5,673.8 527,672.5 L529.5,671.2 L533,680.6 L525.5,683.4 Q519.5,684.4 516,680.6 L512.6,677.2 Z" class="w"/>
<ellipse cx="531.3" cy="676" rx="2.6" ry="4.9" transform="rotate(-18 531.3 676)" class="w"/>
<path d="M507.5,697 L508.8,691.5 L514.5,688.4 L520.5,691.5 L523.5,697 L521,700.5 L512,703.5 Z" class="w"/>
<path d="M508.8,691.5 Q514,694 516.5,701.5 M512,689.8 Q517,693 519,700.6" class="k"/>
<path d="M521.5,698 L530.5,695.2 L536.5,693.7 L538.5,703.6 L532.5,705.2 L522.5,707.5 Z" class="w"/>
<ellipse cx="537.4" cy="698.7" rx="2.4" ry="5" transform="rotate(-14 537.4 698.7)" class="w"/>
<path d="M530.5,695.2 Q529.4,700 532.5,705.2" class="k"/>
<path d="M511,700.8 L520.5,698 L522.5,708.4 L513.5,711 Z" class="w"/>
<ellipse cx="512.2" cy="706" rx="3" ry="5.2" transform="rotate(-14 512.2 706)" class="w"/>
<ellipse cx="512.6" cy="706" rx="1.7" ry="3.4" transform="rotate(-14 512.6 706)" class="w"/>
<path d="M516,699.3 Q514.8,704.5 518,709.7" class="k"/>
<g transform="translate(380.9,739.3) rotate(-16) scale(0.9)">
<path d="M-12,-6 L-10,-8.2 L10.5,-8.2 L12.5,-5 L12.5,5 L10.5,8.2 L-10,8.2 L-12,6 Z" class="w"/>
<ellipse cx="-9.4" cy="0" rx="4.4" ry="7.6" class="w"/>
<ellipse cx="-9.2" cy="0" rx="1.6" ry="2.6" class="w"/>
<path d="M-6,-3.2 L11.5,-3.2 M-5.6,3.6 L11.5,3.6 M2,-8.2 L2,8.2" class="t"/>
</g>
<g transform="translate(315,758.6) rotate(-16)">
<path d="M14,-3 L18.8,-3 A1.4,3 0 0 1 18.8,3 L14,3 Z" class="w"/>
<path d="M3,-6.6 L4.6,-8.4 L13,-8.4 L14.6,-5 L14.6,5 L13,8.4 L4.6,8.4 L3,6.6 Z" class="w"/>
<path d="M4,-3 L14,-3 M4,3.4 L14,3.4" class="t"/>
<path d="M-12.6,-8 L3.4,-8 A4,8 0 0 1 3.4,8 L-12.6,8 Z" class="w"/>
<path d="M0.6,-8 A4,8 0 0 1 0.6,8" class="k"/>
<ellipse cx="-12.6" cy="0" rx="4.6" ry="8" class="w"/>
<circle cx="-12.3" cy="-3" r="0.8" fill="#000"/>
<circle cx="-12.3" cy="3.2" r="0.8" fill="#000"/>
</g>
<path d="M741.2,26.4 Q742,24.2 745,24.4 L750.4,27.4 L753.5,31 L754.5,42.5 L750.2,45.4 Q745.4,46.6 741.2,44.4 L740.8,37 Z" class="w"/>
<path d="M741,37.6 Q745,40.6 750.2,38.8 M745,24.4 Q743.6,31 747.5,37" class="k"/>
<path d="M749.6,32 L753.4,28 L759.6,27.4 L764,30.6 L764.6,37.6 L761,42.6 L755,44.6 L751,41.4 Z" class="w"/>
<ellipse cx="758.2" cy="35.6" rx="5" ry="6.2" transform="rotate(28 758.2 35.6)" class="w"/>
<ellipse cx="758.6" cy="35.8" rx="3.2" ry="4.2" transform="rotate(28 758.6 35.8)" class="r"/>
<path d="M753.4,28 L752.6,34.6 L755,44.6 M749.6,32 L752.6,34.6" class="k"/>
<path d="M836.6,31 L836.6,36 L834.2,38 L834.2,42 L836,43.6 L837.6,46.6 Q842,50.6 846.6,46.6 L848,43.6 L850,42 L850,38 L847.6,36 L847.6,31 Z" class="w"/>
<ellipse cx="842.1" cy="31" rx="5.5" ry="2.8" class="w"/>
<ellipse cx="842.1" cy="31" rx="3" ry="1.5" class="w"/>
<path d="M834.2,38.6 Q842,43.5 850,38.6 M834.2,41.6 Q842,46.6 850,41.6 M836,43.8 Q842,48 848,43.8" class="k"/>
<path d="M835.6,73.4 Q826.6,74 826.4,81.4 Q826.8,88.6 835.4,89.6" class="w"/>
<path d="M836.4,90 L836.4,99.4 Q842,102.6 847.4,99.4 L847.4,90 Z" class="w"/>
<path d="M833.6,72 L835.4,68.4 L848.4,68.4 L850.4,72 L850.4,86 L842,93.6 L833.6,86 Z" class="w"/>
<ellipse cx="842" cy="70.6" rx="7.2" ry="3.6" class="w"/>
<ellipse cx="842" cy="70.8" rx="4.4" ry="2.2" class="w"/>
<path d="M838.4,73.8 L838.4,90.4 M846,73.8 L846,90 M833.6,80 L838.4,82.4 L846,82 L850.4,79.4" class="k"/>
<path d="M295.6,396 L295.6,412.8" class="t"/>
<path d="M295.6,420 L295.6,454.5" class="t"/>
<path d="M295.6,464.6 L295.6,470.6" class="t"/>
<path d="M295.6,481 L295.6,528.4" class="t"/>
<path d="M841.6,49.8 L841.6,66.6" class="t"/>
<path d="M841.6,102 L841.6,126" class="t"/>
<path d="M49.8,604.4 L87.9,620" class="t"/>
<path d="M103.7,626.2 L108.7,628.3" class="t"/>
<path d="M124.3,634 L170.8,652.8" class="t"/>
<path d="M144.7,678.3 L170.2,664" class="t"/>
<path d="M202.5,646.6 L236,628.4" class="t"/>
<path d="M262,614.8 L270,610.8" class="t"/>
<path d="M270,610.8 L301,594.6" class="t"/>
<path d="M359.6,574.5 L402.9,550.6" class="t"/>
<path d="M422.2,541.4 L462.1,517.5" class="t"/>
<path d="M347.4,600.7 L379,618.8" class="t"/>
<path d="M432.3,624.2 L469.5,645.3" class="t"/>
<path d="M434.8,650.9 L474.5,673.2" class="t"/>
<path d="M333,753 L367.8,743.4" class="t"/>
<path d="M393.5,736.4 L427.5,726.5" class="t"/>
<path d="M440,723 L446,721.4" class="t"/>
<path d="M466,716 L474,713.8" class="t"/>
<path d="M490,710.7 L511.1,706.4" class="t"/>
<path d="M537.8,697.7 L558.9,692.7" class="t"/>
<path d="M395,602.4 L400,604.7" class="t"/>
<path d="M407.4,609.9 L412.4,612.4" class="t"/>
<path d="M397.5,629.8 L402.5,632.6" class="t"/>
<path d="M410.5,637.2 L415.5,639.7" class="t"/>
<path d="M485.7,655.2 L490.7,658.1" class="t"/>
<path d="M501.2,663.9 L505.6,666.4" class="t"/>
<path d="M488.8,681.9 L493.8,684.4" class="t"/>
<path d="M503.1,690 L507.4,692.5" class="t"/>
<path d="M490,657 L494.3,659" class="t"/>
<path d="M503,690.2 L507.4,692.7" class="t"/>
<text x="698.8" y="47.5" font-size="29">2</text>
<text x="901.8" y="87.2" font-size="29">1</text>
<text x="345.7" y="422.7" font-size="29">31</text>
<text x="493.7" y="418.2" font-size="29">14</text>
<text x="488.4" y="566.9" font-size="29">14</text>
<text x="26.6" y="547.5" font-size="29">20</text>
<text x="272.4" y="679.2" font-size="29">35</text>
<text x="384.1" y="689.9" font-size="29">39</text>
<text x="534.4" y="752.7" font-size="29">59</text>
<text x="403.8" y="804.8" font-size="29">60</text>
<text x="344.6" y="822.3" font-size="29">61</text>
<text x="631.8" y="802.6" font-size="29">20</text>
<text x="745" y="781.8" font-size="29">15</text>
<text x="918.8" y="737.4" font-size="29">23</text>
<path d="M716.8,37.3 L740.9,36.8" class="t"/>
<path d="M898.7,77.1 L842.8,79.1" class="t"/>
<path d="M357.8,432.1 L357.8,477.7" class="t"/>
<path d="M507.6,420.7 L508.8,467.4" class="t"/>
<path d="M500.8,505 L502.4,536.9" class="t"/>
<path d="M56.5,559 L76.4,588.2" class="t"/>
<path d="M270.7,649.5 L252.5,628.5" class="t"/>
<path d="M414.9,660.4 L424.1,650.2" class="t"/>
<path d="M519.2,696 L538.1,723.4" class="t"/>
<path d="M387,744.8 L406.6,775.4" class="t"/>
<path d="M323.1,762.1 L343.8,791.9" class="t"/>
<path d="M614.2,742.2 L633.5,772" class="t"/>
<path d="M777,770.1 L821.8,767.2" class="t"/>
<path d="M875.8,738.5 L916.8,729.1" class="t"/>
<text class="wm" transform="translate(315.2,621.4) rotate(-40.1) scale(1,0.94)" font-size="117">AutoSoft</text>
</g>
<rect x="950.6" y="0" width="16" height="872" fill="#fff"/>
</svg>
</body></html>
